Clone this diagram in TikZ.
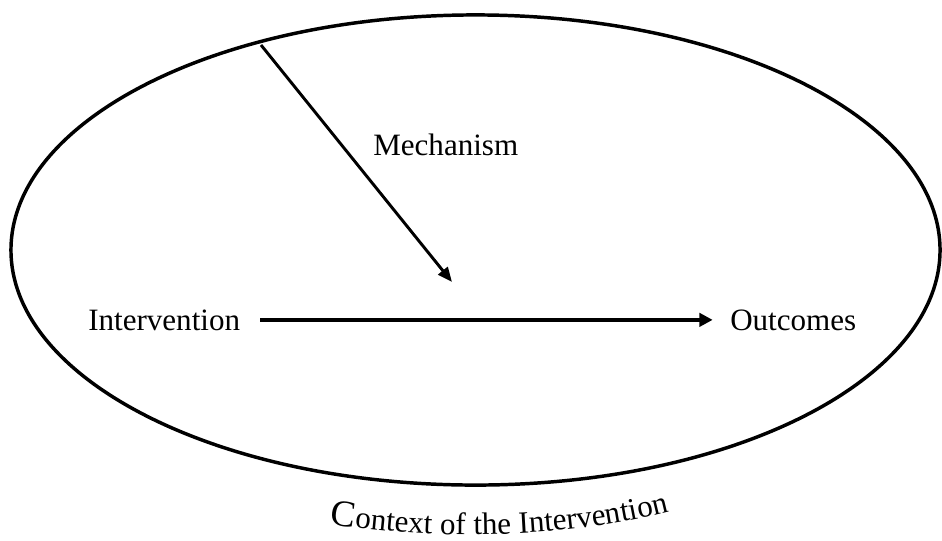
\documentclass[tikz,border=0pt]{standalone}
\usepackage{fontspec}
\setmainfont{Liberation Serif}
\usetikzlibrary{positioning,arrows.meta,decorations.text}
\newcommand{\lblfont}{\fontsize{23.3pt}{28pt}\selectfont}
\newcommand{\capfont}{\fontsize{28pt}{34pt}\selectfont}

\begin{document}
\begin{tikzpicture}[
    x=0.75pt, y=-0.75pt,
    lbl/.style={inner sep=0pt, font=\lblfont},
    arrow/.style={-{Triangle[length=10pt, width=10pt]}, line width=3.4pt},
    mecharrow/.style={-{Triangle[length=11pt, width=9pt]}, line width=2.2pt},
    ctxline/.style={line width=2.6pt}
]
\useasboundingbox (0,0) rectangle (942,540);

% Context ellipse
\draw[ctxline] (475.5,250) ellipse [x radius=348.4pt, y radius=176.3pt];

% Labels
\node[lbl, anchor=base west] (interv) at (88,330) {Intervention};
\node[lbl, anchor=base west] (outc) at (730,330) {Outcomes};
\node[lbl, anchor=base west] (mech) at (373,155) {Mechanism};

% Intervention -> Outcomes
\draw[arrow, shorten <=15pt, shorten >=13pt] (interv) -- (outc);

% Mechanism arrow from the context
\coordinate (mechtop) at (261,45);
\coordinate (mechtip) at (452,282);
\draw[mecharrow] (mechtop) -- (mechtip);

% Context caption
\coordinate (ctxL) at (330,524);
\coordinate (ctxR) at (668,512);
\path[decorate, decoration={text along path,
    text={|\capfont|C|\lblfont|ontext of the Intervention}}]
  (ctxL) .. controls (440,541) and (565,538) .. (ctxR);

\end{tikzpicture}
\end{document}
